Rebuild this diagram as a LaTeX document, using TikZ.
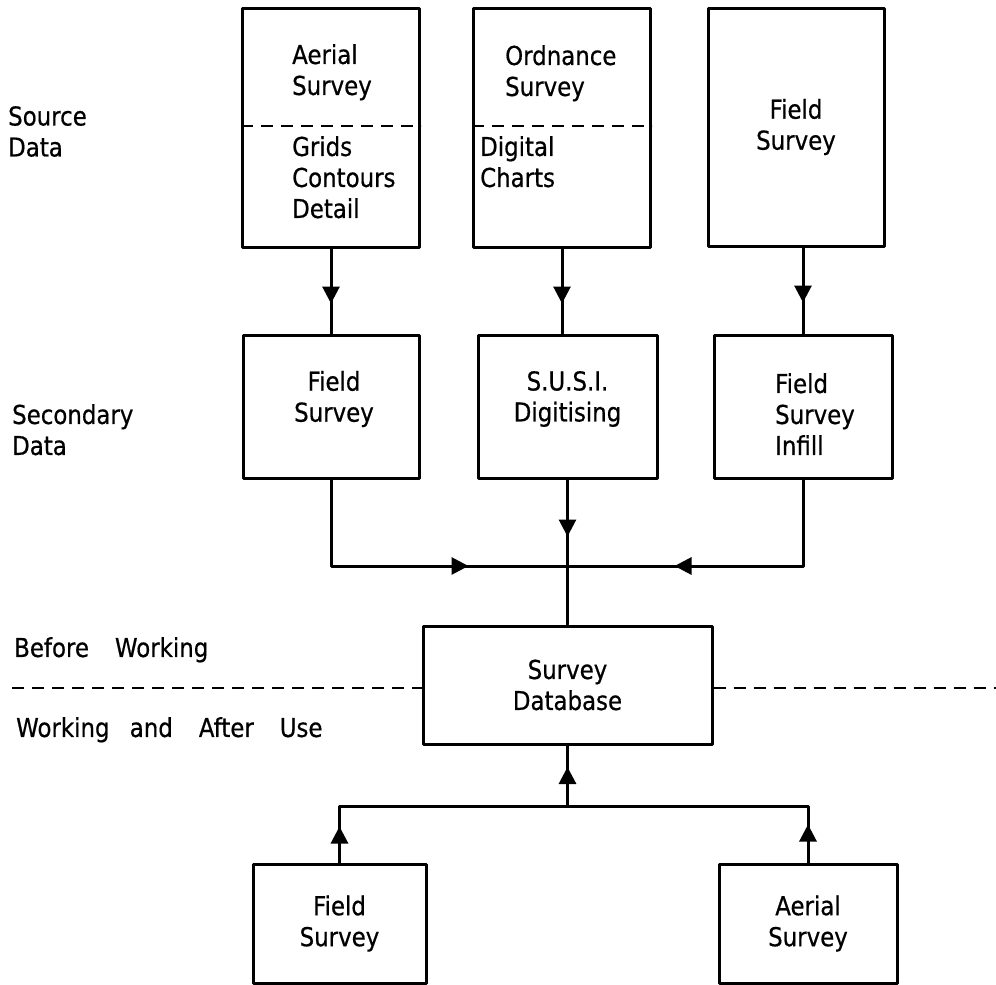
\documentclass[tikz,border=0pt]{standalone}
\usepackage{fontspec}
\setmainfont{DejaVu Sans}[FakeStretch=0.88,FakeBold=0.6]
\usetikzlibrary{arrows.meta,decorations.markings}
\begin{document}
\begin{tikzpicture}[x=1pt,y=-1pt,line cap=round,line join=round,font=\fontsize{26}{31}\selectfont,
  box/.style={draw,line width=3pt,inner sep=0pt,align=center},
  txt/.style={inner sep=0pt,align=left,anchor=north west},
  ctxt/.style={inner sep=0pt,align=center},
  link/.style={line width=3pt},
  sepline/.style={line width=2.5pt,line cap=butt,dash pattern=on 12pt off 8pt},
  tip at/.style={decoration={markings,mark=at position #1 with {\arrow{Triangle[length=17pt,width=17pt]}}},postaction={decorate}}]
	\useasboundingbox (0,0) rectangle (996,985);
	% row labels
	\node[txt] (srcL) at (8,106) {Source\\Data};
	\node[txt] (secL) at (12,404) {Secondary\\Data};
	\node[txt] (befL) at (14,637) {Before\quad Working};
	\node[txt] (aftL) at (16,717) {Working\enspace\ and\quad After\quad Use};
	% source data
	\node[box,minimum width=177pt,minimum height=239pt] (src1) at (331,127.5) {};
	\node[box,minimum width=177pt,minimum height=239pt] (src2) at (562,127.5) {};
	\node[box,minimum width=176pt,minimum height=238pt] (src3) at (796,127) {Field\\Survey};
	\node[txt] (src1a) at (292,44) {Aerial\\Survey};
	\node[txt] (src1b) at (292,136) {Grids\\Contours\\Detail};
	\node[txt] (src2a) at (505,45) {Ordnance\\Survey};
	\node[txt] (src2b) at (480,136) {Digital\\Charts};
	\coordinate (cut) at (0,126);
	\draw[sepline] (cut -| src1.west) -- (cut -| src1.east);
	\draw[sepline] (cut -| src2.west) -- (cut -| src2.east);
	% secondary data
	\node[box,minimum width=176pt,minimum height=143pt] (sec1) at (331,406.5) {};
	\node[box,minimum width=179pt,minimum height=143pt] (sec2) at (567.5,406.5) {};
	\node[box,minimum width=178pt,minimum height=143pt] (sec3) at (803,406.5) {};
	\node[ctxt] (sec1t) at (334,399) {Field\\Survey};
	\node[ctxt] (sec2t) at (567.5,399) {S.U.S.I.\\Digitising};
	\node[txt] (sec3t) at (775,373) {Field\\Survey\\Infill};
	\draw[link,tip at=55pt] (src1) -- (sec1);
	\draw[link,tip at=55pt] (src2.south) -- (src2.south |- sec2.north);
	\draw[link,tip at=55pt] (sec3.north |- src3.south) -- (sec3.north);
	% database
	\node[box,minimum width=289pt,minimum height=118pt] (db) at (567.5,685) {Survey\\Database};
	\coordinate (merge) at (567.5,566);
	\draw[link,tip at=224pt] (sec1.south) |- (merge);
	\draw[link,tip at=215pt] (sec3.south) |- (merge);
	\draw[link,tip at=57pt] (sec2.south) -- (db.north);
	\coordinate (sepL) at (12,688);
	\coordinate (sepR) at (996,688);
	\draw[sepline] (sepL) -- (sepL -| db.west);
	\draw[sepline] (db.east |- sepR) -- (sepR);
	% working and after use
	\node[box,minimum width=173pt,minimum height=119pt] (bot1) at (339.5,923.5) {Field\\Survey};
	\node[box,minimum width=178pt,minimum height=119pt] (bot2) at (808,923.5) {Aerial\\Survey};
	\coordinate (join) at (567.5,806);
	\draw[link,tip at=36pt] (bot1.north) |- (join);
	\draw[link,tip at=38pt] (bot2.north) |- (join);
	\draw[link,tip at=39pt] (join) -- (db.south);
\end{tikzpicture}
\end{document}
